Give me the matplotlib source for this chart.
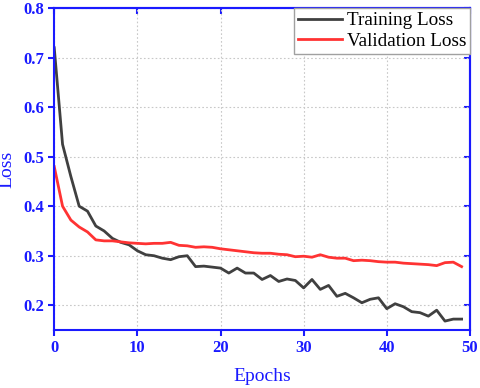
import numpy as np
import matplotlib.pyplot as plt

epochs = list(range(50))
train_loss = [0.72, 0.525, 0.46, 0.40, 0.39, 0.36, 0.35, 0.335, 0.327, 0.322,
              0.31, 0.302, 0.30, 0.295, 0.292, 0.298, 0.30, 0.278, 0.279, 0.277,
              0.275, 0.265, 0.275, 0.265, 0.265, 0.252, 0.26, 0.248, 0.253, 0.25,
              0.235, 0.252, 0.232, 0.24, 0.218, 0.224, 0.215, 0.205, 0.212, 0.215,
              0.193, 0.203, 0.197, 0.187, 0.185, 0.178, 0.19, 0.168, 0.172, 0.172]
val_loss = [0.48, 0.40, 0.372, 0.358, 0.348, 0.332, 0.33, 0.33, 0.328, 0.326,
            0.325, 0.324, 0.325, 0.325, 0.327, 0.321, 0.32, 0.317, 0.318, 0.317,
            0.314, 0.312, 0.31, 0.308, 0.306, 0.305, 0.305, 0.303, 0.302, 0.298,
            0.299, 0.297, 0.302, 0.297, 0.295, 0.295, 0.29, 0.291, 0.29, 0.288,
            0.287, 0.287, 0.285, 0.284, 0.283, 0.282, 0.28, 0.286, 0.287, 0.278]

plt.rcParams['font.family'] = 'Liberation Serif'
blue = '#1a1aff'

fig = plt.figure(figsize=(4.8, 3.88), dpi=100)
ax = fig.add_axes([0.113, 0.1495, 0.866, 0.8295])

ax.plot(epochs, train_loss, color='#404040', lw=2, label='Training Loss')
ax.plot(epochs, val_loss, color='#ff3333', lw=2, label='Validation Loss')

ax.set_xlim(0, 50)
ax.set_ylim(0.15, 0.8)
ax.set_xticks([0, 10, 20, 30, 40, 50])
ax.set_yticks([0.2, 0.3, 0.4, 0.5, 0.6, 0.7, 0.8])
ax.grid(True, color='#c8c8c8', linestyle=(0, (1.5, 2)), lw=0.8)

for s in ax.spines.values():
    s.set_color(blue)
    s.set_linewidth(1.5)
ax.tick_params(axis='both', which='major', direction='out', length=4, width=1.5,
               color=blue, labelcolor=blue, labelsize=12)
for lab in ax.get_xticklabels() + ax.get_yticklabels():
    lab.set_fontweight('bold')

# inward ticks on the top and right spines
ax2 = ax.secondary_xaxis('top')
ax2.set_xticks([0, 10, 20, 30, 40, 50])
ax2.tick_params(direction='in', length=4, width=1.5, color=blue, labeltop=False)
ax3 = ax.secondary_yaxis('right')
ax3.set_yticks([0.2, 0.3, 0.4, 0.5, 0.6, 0.7, 0.8])
ax3.tick_params(direction='in', length=4, width=1.5, color=blue, labelright=False)
for a in (ax2, ax3):
    for s in a.spines.values():
        s.set_color(blue)
        s.set_linewidth(1.5)

ax.set_xlabel('Epochs', color=blue, fontsize=14, labelpad=8)
ax.set_ylabel('Loss', color=blue, fontsize=14)
ax.yaxis.set_label_coords(-0.093, 0.5)

leg = ax.legend(loc='upper right', fontsize=13.8, fancybox=False, framealpha=1,
                edgecolor='#a0a0a0', borderaxespad=0, handlelength=2.3,
                handletextpad=0.26, borderpad=0.2, labelspacing=0.15)
leg.get_frame().set_linewidth(1.0)

fig.savefig('out.png', dpi=100)
